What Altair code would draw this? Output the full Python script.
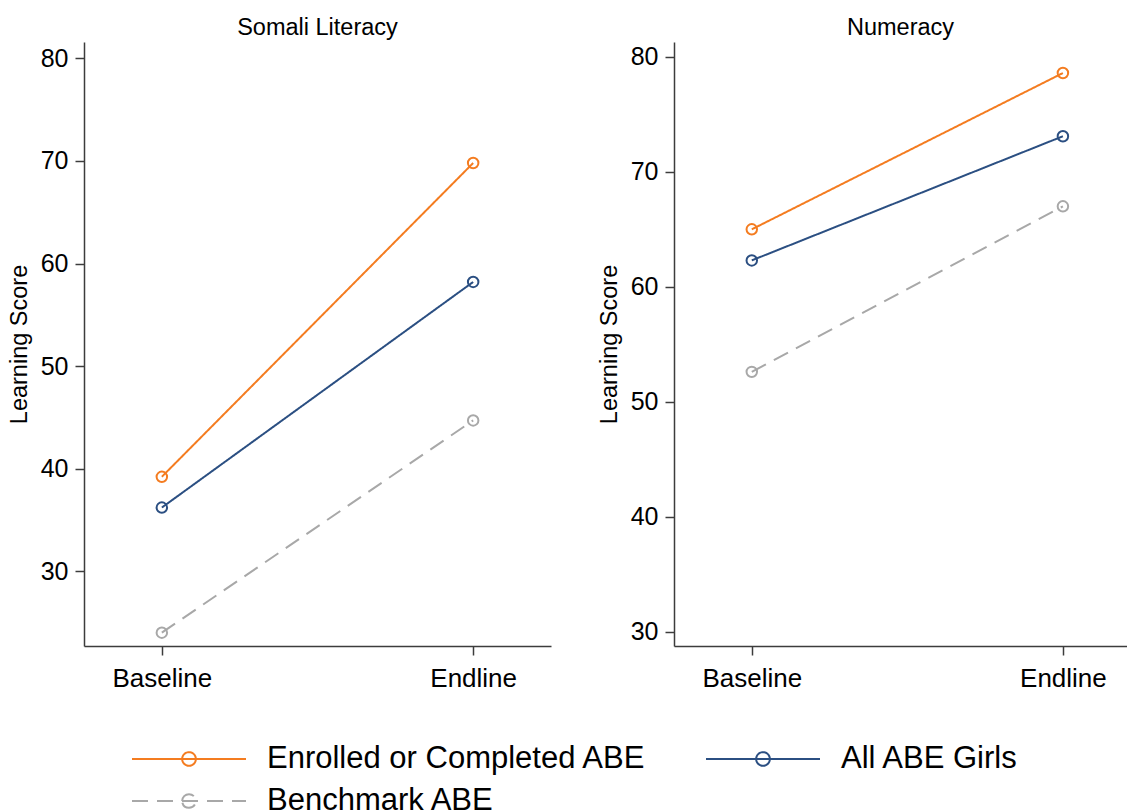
import altair as alt
import pandas as pd

# ---- data ----
panels = ["Somali Literacy", "Numeracy"]
x_labels = ["Baseline", "Endline"]
series = ["Enrolled or Completed ABE", "All ABE Girls", "Benchmark ABE"]

lit_enrolled = [39.2, 69.8]
lit_all = [36.2, 58.2]
lit_bench = [24.0, 44.7]

num_enrolled = [65.0, 78.6]
num_all = [62.3, 73.1]
num_bench = [52.6, 67.0]

y_ticks = [30, 40, 50, 60, 70, 80]

colors = ["#f47c20", "#2b4f82", "#a8a8a8"]
dashes = [[1, 0], [1, 0], [16, 9]]


def make_df(vals_list):
    rows = []
    for s, vals in zip(series, vals_list):
        for i, v in enumerate(vals):
            rows.append({"series": s, "t": i, "period": x_labels[i], "score": v})
    return pd.DataFrame(rows)


lit_df = make_df([lit_enrolled, lit_all, lit_bench])
num_df = make_df([num_enrolled, num_all, num_bench])

FONT = "Liberation Sans"
sym_path = "M-1,0L1,0M-0.12,0A0.12,0.12,0,1,1,0.12,0A0.12,0.12,0,1,1,-0.12,0"

legend = alt.Legend(
    title=None,
    orient="none",
    direction="horizontal",
    legendX=47,
    legendY=702,
    columns=2,
    symbolType=sym_path,
    symbolSize=12996,
    symbolStrokeWidth=2,
    symbolFillColor="transparent",
    labelFontSize=31,
    labelFont=FONT,
    labelColor="#000000",
    labelOffset=20,
    labelLimit=0,
    columnPadding=58,
    rowPadding=11,
    clipHeight=30,
)

color_scale = alt.Scale(domain=series, range=colors)
dash_scale = alt.Scale(domain=series, range=dashes)


def panel(df, title, ydom, xdom, width):
    x = alt.X(
        "t:Q",
        scale=alt.Scale(domain=xdom, nice=False, zero=False),
        axis=alt.Axis(
            values=[0, 1],
            labelExpr=f"{x_labels}[datum.value]",
            title=None,
            grid=False,
            tickSize=9,
            labelPadding=10,
            labelFontSize=26,
        ),
    )
    y = alt.Y(
        "score:Q",
        scale=alt.Scale(domain=ydom, nice=False, zero=False),
        axis=alt.Axis(
            values=y_ticks,
            title="Learning Score",
            grid=False,
            tickSize=9,
            labelPadding=7,
            labelFontSize=25,
            titleFontSize=23.5,
            titleFontWeight="normal",
            titlePadding=9,
        ),
    )
    color = alt.Color("series:N", scale=color_scale, legend=legend, sort=series)
    dash = alt.StrokeDash("series:N", scale=dash_scale, legend=legend, sort=series)
    lines = alt.Chart(df).mark_line(strokeWidth=2).encode(
        x=x, y=y, color=color, strokeDash=dash, detail="series:N"
    )
    pts = alt.Chart(df).mark_point(
        filled=False, shape="circle", size=110, strokeWidth=2, opacity=1
    ).encode(
        x=x, y=y,
        color=alt.Color("series:N", scale=color_scale, legend=None),
    )
    return alt.layer(lines, pts).properties(
        width=width,
        height=604,
        title=alt.TitleParams(title, fontSize=23.5, fontWeight="normal", font=FONT,
                              color="#000000", offset=3),
    )


left = panel(lit_df, panels[0], [22.7, 81.6], [-0.25, 1.25], 467)
right = panel(num_df, panels[1], [28.75, 81.3], [-0.25, 1.206], 453)

chart = (
    alt.hconcat(left, right, spacing=46)
    .properties(padding={"left": 7, "top": 15, "right": 0, "bottom": 0},
                background="white")
    .configure_view(strokeWidth=0, stroke="transparent")
    .configure_axis(
        domainColor="#3c3c3c",
        tickColor="#3c3c3c",
        domainWidth=1.5,
        tickWidth=1.5,
        labelColor="#000000",
        titleColor="#000000",
        labelFont=FONT,
        titleFont=FONT,
    )
)

chart.save("out.html", embed_options={"renderer": "svg", "actions": False})
